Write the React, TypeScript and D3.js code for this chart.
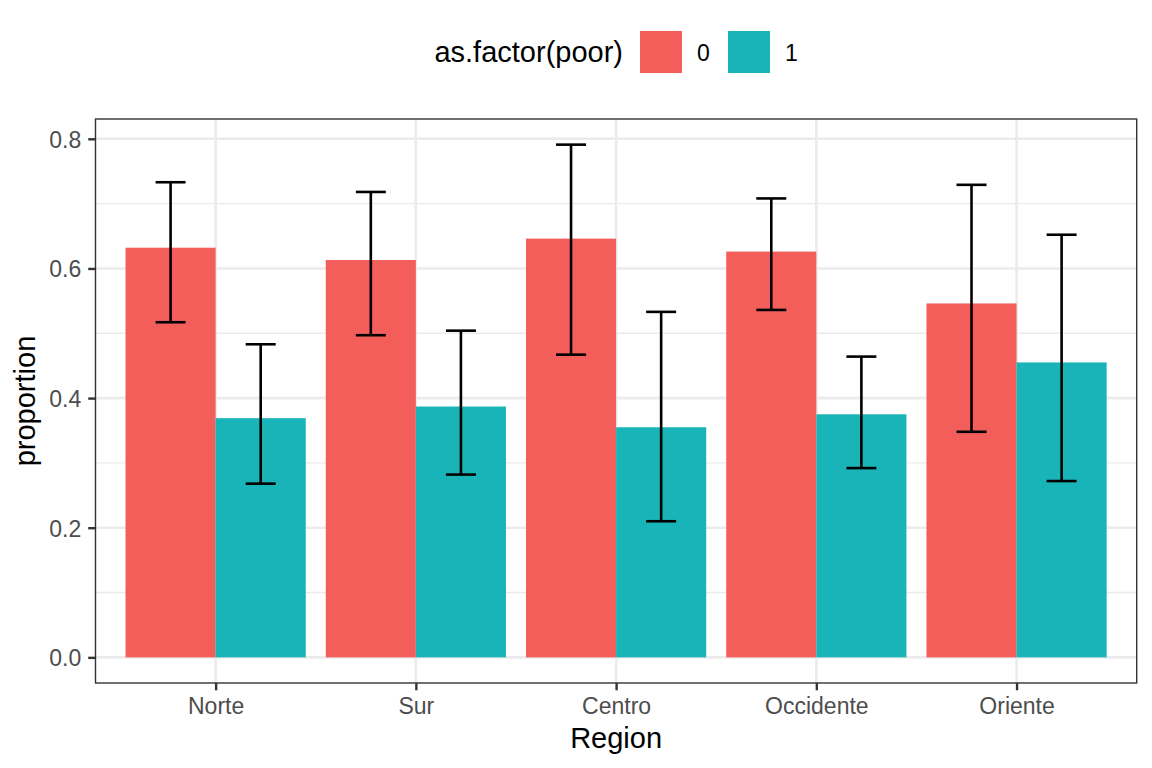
import React, { useEffect, useRef } from 'react';
import * as d3 from 'd3';

const regions = ['Norte', 'Sur', 'Centro', 'Occidente', 'Oriente'];
const groups = ['0', '1'];
const groupColors = ['#F35E5A', '#18B4B8'];

const prop0 = [0.632, 0.613, 0.646, 0.626, 0.546];
const prop1 = [0.369, 0.387, 0.355, 0.375, 0.455];
const lower0 = [0.517, 0.497, 0.467, 0.536, 0.348];
const upper0 = [0.733, 0.718, 0.791, 0.708, 0.729];
const lower1 = [0.268, 0.282, 0.210, 0.292, 0.272];
const upper1 = [0.483, 0.504, 0.533, 0.464, 0.652];

const yTicks = [0, 0.2, 0.4, 0.6, 0.8];
const yMinor = [0.1, 0.3, 0.5, 0.7];

const W = 1152;
const H = 768;
const FONT = '"Liberation Sans", Arial, Helvetica, sans-serif';
const TICK_FS = '23px';
const TITLE_FS = '29px';

const App: React.FC = () => {
  const svgRef = useRef<SVGSVGElement>(null);

  useEffect(() => {
    if (!svgRef.current) return;
    const svg = d3.select(svgRef.current);
    svg.selectAll('*').remove();

    const panel = { left: 95.5, right: 1136.7, top: 119, bottom: 683 };

    const rows = regions.flatMap((r, i) => [
      { region: r, group: '0', value: prop0[i], lo: lower0[i], hi: upper0[i] },
      { region: r, group: '1', value: prop1[i], lo: lower1[i], hi: upper1[i] },
    ]);

    // discrete scale with ggplot's 0.6 expansion on each side
    const unit = (panel.right - panel.left) / (regions.length - 1 + 1.2);
    const xCenter = d3.scalePoint<string>()
      .domain(regions)
      .range([panel.left + 0.6 * unit, panel.right - 0.6 * unit]);
    const xGroup = d3.scaleBand<string>()
      .domain(groups)
      .range([-0.45 * unit, 0.45 * unit])
      .padding(0);
    const color = d3.scaleOrdinal<string, string>().domain(groups).range(groupColors);

    const yMax = d3.max(rows, d => d.hi) || 0;
    const y = d3.scaleLinear()
      .domain([-0.05 * yMax, yMax * 1.05])
      .range([panel.bottom, panel.top]);

    svg.append('rect')
      .attr('x', panel.left).attr('y', panel.top)
      .attr('width', panel.right - panel.left).attr('height', panel.bottom - panel.top)
      .attr('fill', 'white');

    // grid
    const grid = svg.append('g').attr('stroke', '#EBEBEB');
    grid.selectAll('.minor').data(yMinor).enter().append('line')
      .attr('x1', panel.left).attr('x2', panel.right)
      .attr('y1', d => y(d)).attr('y2', d => y(d))
      .attr('stroke-width', 1.4);
    grid.selectAll('.major').data(yTicks).enter().append('line')
      .attr('x1', panel.left).attr('x2', panel.right)
      .attr('y1', d => y(d)).attr('y2', d => y(d))
      .attr('stroke-width', 2.6);
    grid.selectAll('.vmajor').data(regions).enter().append('line')
      .attr('y1', panel.top).attr('y2', panel.bottom)
      .attr('x1', d => xCenter(d)!).attr('x2', d => xCenter(d)!)
      .attr('stroke-width', 2.6);

    // bars
    svg.append('g').selectAll('rect').data(rows).enter().append('rect')
      .attr('x', d => xCenter(d.region)! + xGroup(d.group)!)
      .attr('width', xGroup.bandwidth())
      .attr('y', d => y(d.value))
      .attr('height', d => y(0) - y(d.value))
      .attr('fill', d => color(d.group));

    // error bars
    const capHalf = 15;
    const eb = svg.append('g').attr('stroke', 'black').attr('stroke-width', 2.6).attr('fill', 'none');
    rows.forEach(d => {
      const cx = xCenter(d.region)! + xGroup(d.group)! + xGroup.bandwidth() / 2;
      eb.append('line').attr('x1', cx).attr('x2', cx).attr('y1', y(d.hi)).attr('y2', y(d.lo));
      eb.append('line').attr('x1', cx - capHalf).attr('x2', cx + capHalf).attr('y1', y(d.hi)).attr('y2', y(d.hi));
      eb.append('line').attr('x1', cx - capHalf).attr('x2', cx + capHalf).attr('y1', y(d.lo)).attr('y2', y(d.lo));
    });

    // panel border
    svg.append('rect')
      .attr('x', panel.left).attr('y', panel.top)
      .attr('width', panel.right - panel.left).attr('height', panel.bottom - panel.top)
      .attr('fill', 'none').attr('stroke', '#333333').attr('stroke-width', 1.4);

    // y axis
    const yAxis = svg.append('g')
      .attr('transform', `translate(${panel.left},0)`)
      .call(d3.axisLeft(y).tickValues(yTicks).tickFormat(d3.format('.1f')).tickSize(7.3).tickPadding(7));
    yAxis.select('.domain').remove();
    yAxis.selectAll('line').attr('stroke', '#333333').attr('stroke-width', 2.4);
    yAxis.selectAll('text').attr('fill', '#4D4D4D').attr('dy', '0.36em')
      .style('font-size', TICK_FS).style('font-family', FONT);

    // x axis
    const xAxis = svg.append('g')
      .attr('transform', `translate(0,${panel.bottom})`)
      .call(d3.axisBottom(xCenter).tickSize(7.3).tickPadding(0));
    xAxis.select('.domain').remove();
    xAxis.selectAll('line').attr('stroke', '#333333').attr('stroke-width', 2.4);
    xAxis.selectAll('text').attr('fill', '#4D4D4D').attr('y', 31).attr('dy', null)
      .style('font-size', TICK_FS).style('font-family', FONT);

    // axis titles
    svg.append('text')
      .attr('x', (panel.left + panel.right) / 2).attr('y', 748)
      .attr('text-anchor', 'middle')
      .style('font-size', TITLE_FS).style('font-family', FONT)
      .text('Region');
    svg.append('text')
      .attr('transform', `translate(35,${(panel.top + panel.bottom) / 2}) rotate(-90)`)
      .attr('text-anchor', 'middle')
      .style('font-size', TITLE_FS).style('font-family', FONT)
      .text('proportion');

    // legend
    const legend = svg.append('g');
    legend.append('text')
      .attr('x', 623).attr('y', 62)
      .attr('text-anchor', 'end')
      .style('font-size', TITLE_FS).style('font-family', FONT)
      .text('as.factor(poor)');
    const keyX = [640, 728];
    groups.forEach((g, i) => {
      legend.append('rect')
        .attr('x', keyX[i]).attr('y', 31)
        .attr('width', 42).attr('height', 42)
        .attr('fill', color(g));
      legend.append('text')
        .attr('x', keyX[i] + 57).attr('y', 60.5)
        .style('font-size', TICK_FS).style('font-family', FONT)
        .text(g);
    });
  }, []);

  return (
    <svg
      ref={svgRef}
      width={W}
      height={H}
      style={{ position: 'absolute', left: 0, top: 0, background: 'white' }}
    />
  );
};

export default App;
